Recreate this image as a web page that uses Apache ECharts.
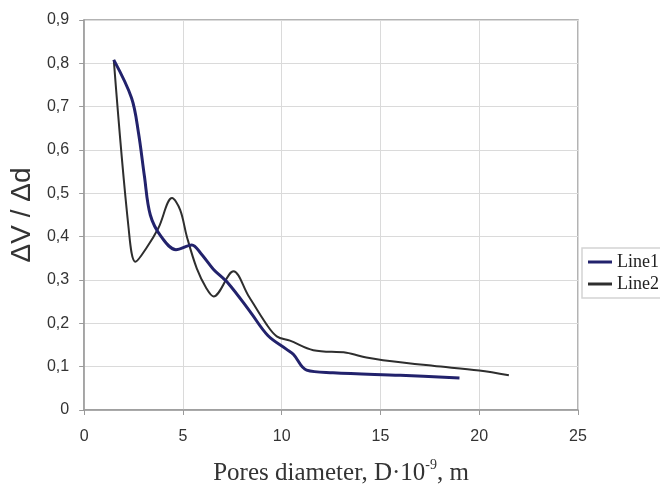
<!DOCTYPE html>
<html>
<head>
<meta charset="utf-8">
<script src="https://cdn.jsdelivr.net/npm/echarts@6/dist/echarts.min.js"></script>
<style>
  html, body { margin: 0; padding: 0; background: #fff; }
  #chart { width: 660px; height: 491px; }
</style>
</head>
<body>
<div id="chart"></div>
<script>
// Pore size distribution: dV/dd versus pore diameter (nm)
var seriesNames = ['Line1', 'Line2'];

var line1Diameter = [1.5, 2.4, 2.75, 3.05, 3.35, 3.9, 4.65, 5.45, 5.9, 6.54, 7.3, 8.4, 9.3, 10.25, 10.6, 11.26, 12.6, 16, 19];
var line1Value    = [0.808, 0.72, 0.64, 0.54, 0.45, 0.40, 0.37, 0.381, 0.362, 0.325, 0.292, 0.227, 0.172, 0.14, 0.128, 0.092, 0.086, 0.08, 0.074];

var line2Diameter = [1.5, 2.25, 2.6, 3.17, 3.76, 4.45, 4.86, 5.2, 5.7, 6.2, 6.55, 7.56, 8.3, 9.24, 9.75, 10.42, 11.6, 13.28, 14.29, 15.13, 17.65, 20, 21.5];
var line2Value    = [0.808, 0.42, 0.342, 0.375, 0.42, 0.489, 0.462, 0.40, 0.327, 0.28, 0.262, 0.32, 0.265, 0.197, 0.17, 0.16, 0.138, 0.132, 0.121, 0.115, 0.102, 0.091, 0.08];

var xTicks = { min: 0, max: 25, interval: 5 };
var yTicks = { min: 0, max: 0.9, interval: 0.1 };

function pairs(xs, ys) {
  return xs.map(function (x, i) { return [x, ys[i]]; });
}

var chart = echarts.init(document.getElementById('chart'), null, { renderer: 'canvas' });

chart.setOption({
  animation: false,
  backgroundColor: '#ffffff',
  grid: {
    left: 83, right: 82, top: 20, bottom: 75,
    show: true, borderColor: '#9a9a9a', borderWidth: 1.5, backgroundColor: '#ffffff'
  },
  legend: {
    orient: 'vertical',
    left: 582, top: 248,
    padding: [5, 20, 5, 6],
    itemWidth: 24, itemHeight: 3, itemGap: 4,
    icon: 'rect',
    backgroundColor: '#ffffff',
    borderColor: '#d4d4d4', borderWidth: 1.5, borderRadius: 0,
    textStyle: { fontFamily: 'Liberation Serif', fontSize: 18, lineHeight: 18, color: '#222' },
    data: seriesNames
  },
  xAxis: {
    type: 'value',
    min: xTicks.min, max: xTicks.max, interval: xTicks.interval,
    axisLine: { show: true, lineStyle: { color: '#9a9a9a', width: 1.5 } },
    axisTick: { show: true, length: 5, lineStyle: { color: '#9a9a9a' } },
    splitLine: { show: true, lineStyle: { color: '#dadada', width: 1 } },
    axisLabel: { margin: 19, fontFamily: 'Liberation Sans', fontSize: 16, color: '#333' },
    name: '{a|Pores diameter, D·10}{s|-9}{a|, m}',
    nameLocation: 'middle',
    nameGap: 48,
    nameTextStyle: {
      padding: [0, 0, 0, 20],
      rich: {
        a: { fontFamily: 'Liberation Serif', fontSize: 25, color: '#333', lineHeight: 28, verticalAlign: 'bottom' },
        s: { fontFamily: 'Liberation Serif', fontSize: 14, color: '#333', lineHeight: 28, verticalAlign: 'top' }
      }
    }
  },
  yAxis: {
    type: 'value',
    min: yTicks.min, max: yTicks.max, interval: yTicks.interval,
    axisLine: { show: true, lineStyle: { color: '#9a9a9a', width: 1.5 } },
    axisTick: { show: true, length: 5, lineStyle: { color: '#9a9a9a' } },
    splitLine: { show: true, lineStyle: { color: '#dadada', width: 1 } },
    axisLabel: {
      margin: 15, fontFamily: 'Liberation Sans', fontSize: 16, color: '#333',
      formatter: function (v) { return v === 0 ? '0' : v.toFixed(1).replace('.', ','); }
    },
    name: 'ΔV / Δd',
    nameLocation: 'middle',
    nameRotate: 90,
    nameGap: 46,
    nameTextStyle: { fontFamily: 'Liberation Sans', fontSize: 28, color: '#333' }
  },
  series: [
    {
      name: seriesNames[0], type: 'line', smooth: 0.35,
      symbol: 'none', data: pairs(line1Diameter, line1Value),
      lineStyle: { color: '#22226c', width: 3 }, itemStyle: { color: '#22226c' }, z: 3
    },
    {
      name: seriesNames[1], type: 'line', smooth: 0.35,
      symbol: 'none', data: pairs(line2Diameter, line2Value),
      lineStyle: { color: '#2e2e2e', width: 2 }, itemStyle: { color: '#2e2e2e' }, z: 2
    }
  ]
});
</script>
</body>
</html>
